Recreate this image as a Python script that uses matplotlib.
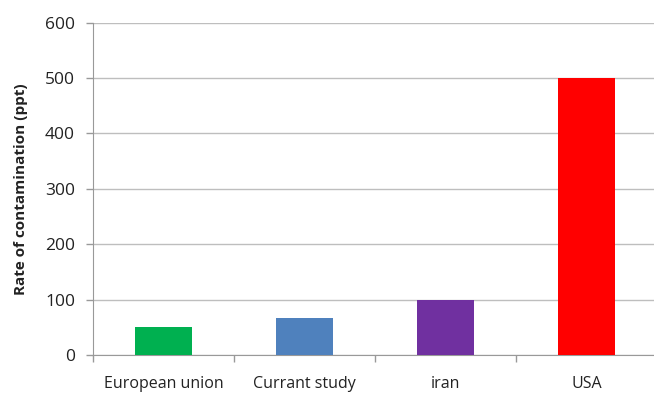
import matplotlib.pyplot as plt
import numpy as np

categories = ['European union', 'Currant study', 'iran', 'USA']
values = [50, 66, 100, 500]
colors = ['#00B050', '#4F81BD', '#7030A0', '#FF0000']

plt.rcParams['font.family'] = ['Open Sans', 'DejaVu Sans']

W, H = 654, 393
fig = plt.figure(figsize=(W / 100, H / 100), dpi=100)
# axes box in pixels: left 93, right 657 (runs past the edge), top 22.7, bottom 355
ax = fig.add_axes([93 / W, (H - 355) / H, (657 - 93) / W, (355 - 22.7) / H])

x = np.arange(len(categories))
ax.bar(x, values, width=0.40, color=colors, zorder=3)

ax.set_xlim(-0.5, len(categories) - 0.5)
ax.set_ylim(0, 600)
ax.set_yticks(np.arange(0, 601, 100))
ax.yaxis.grid(True, color='#BEBEBE', linewidth=1.0, zorder=0)

# category labels centred, ticks at the boundaries
ax.set_xticks(x)
ax.set_xticklabels(categories, fontsize=11.5, color='#222222')
ax.tick_params(axis='x', which='major', length=0, pad=15)
ax.set_xticks(np.arange(-0.5, len(categories), 1), minor=True)
ax.tick_params(axis='x', which='minor', length=5, color='#999999', width=1)

ax.tick_params(axis='y', length=5, color='#999999', width=1, labelsize=12.5,
               labelcolor='#222222', pad=8)

for side in ['top', 'right']:
    ax.spines[side].set_visible(False)
ax.spines['left'].set_color('#999999')
ax.spines['bottom'].set_color('#999999')

ax.set_ylabel('Rate of contamination (ppt)', fontsize=11, fontweight='bold',
              color='#222222', labelpad=12)

fig.savefig('out.png', dpi=100)
